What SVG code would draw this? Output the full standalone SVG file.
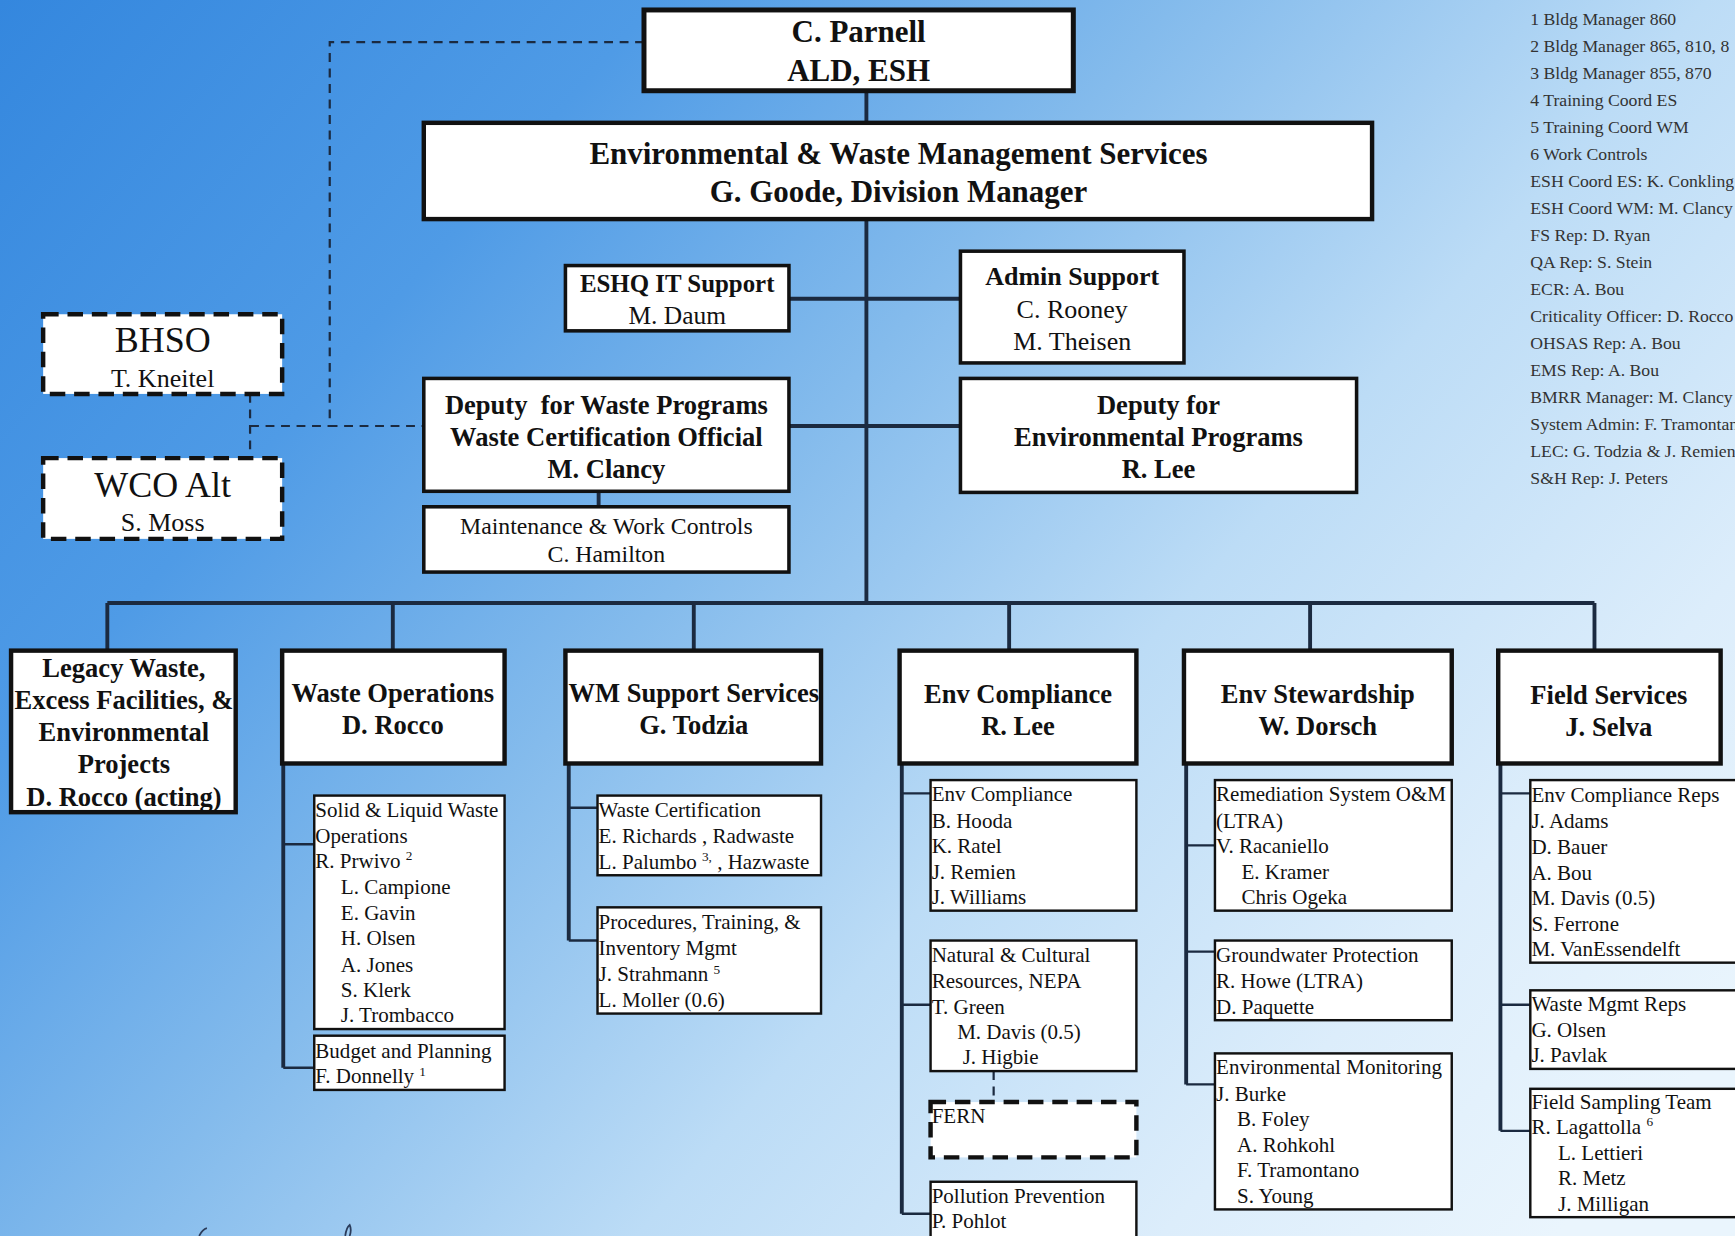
<svg xmlns="http://www.w3.org/2000/svg" width="1735" height="1236" viewBox="0 0 1735 1236">
<defs>
<linearGradient id="bg" gradientUnits="userSpaceOnUse" x1="0" y1="0" x2="1500" y2="1300">
<stop offset="0" stop-color="#3487de"/>
<stop offset="0.25" stop-color="#4f9be6"/>
<stop offset="0.45" stop-color="#84bbec"/>
<stop offset="0.65" stop-color="#bcdcf6"/>
<stop offset="0.85" stop-color="#dcedfb"/>
<stop offset="1" stop-color="#eaf5fd"/>
</linearGradient>
<style>
.bx{fill:#fff;stroke:#111}
.b45{stroke-width:4.5}
.b4{stroke-width:4}
.b3{stroke-width:3.2}
.b2{stroke-width:2.2}
.dsh{fill:#fff;stroke:#111;stroke-width:4;stroke-dasharray:14 8}
.ln{stroke:#1b2a40;stroke-width:3.5;fill:none}
.tk{stroke:#1b2a40;stroke-width:2.2;fill:none}
.dl{stroke:#1b2a40;stroke-width:2;stroke-dasharray:8 6;fill:none}
.hb{font-family:"Liberation Serif",serif;font-weight:bold;fill:#111;text-anchor:middle}
.hr{font-family:"Liberation Serif",serif;fill:#111;text-anchor:middle}
.r{font-family:"Liberation Serif",serif;font-size:19px;fill:#111}
.lg{font-family:"Liberation Serif",serif;font-size:16px;fill:#333}
.sig{stroke:#2a3b5a;stroke-width:1.6;fill:none}
</style>
</defs>
<rect x="0" y="0" width="1735" height="1236" fill="url(#bg)"/>
<g transform="scale(1.10651)">
<g id="connectors">
<path class="ln" d="M783 82V545M713 270H868M713 385H868M97 545H1441M97 545V588M355 545V588M627 545V588M912 545V588M1184 545V588M1441 545V588"/>
<path class="ln" d="M541 433V458"/>
<path class="dl" d="M582 38H298V385H383M226 356V414M226 385H298"/>
<path class="ln" d="M256 690V965M514 690V850M815 690V1097M1072 690V980M1356 690V1022"/>
<path class="tk" d="M256 763H284M256 965H284M514 730H540M514 850H540M815 717H841M815 908H841M815 1097H841M1072 764H1098M1072 860H1098M1072 980H1098M1356 717H1383M1356 908H1383M1356 1022H1383"/>
<path class="dl" d="M898 968V996"/>
</g>

<g id="parnell">
<rect class="bx b45" x="582" y="9" width="388" height="73"/>
<text class="hb" font-size="28" x="776" y="38">C. Parnell</text>
<text class="hb" font-size="28" x="776" y="73">ALD, ESH</text>
</g>
<g id="ewms">
<rect class="bx b4" x="383" y="111" width="857" height="87"/>
<text class="hb" font-size="28" x="812" y="148">Environmental &amp; Waste Management Services</text>
<text class="hb" font-size="28" x="812" y="183">G. Goode, Division Manager</text>
</g>
<g id="eshq">
<rect class="bx b3" x="511" y="240" width="202" height="59"/>
<text class="hb" font-size="22.5" x="612" y="264">ESHQ IT Support</text>
<text class="hr" font-size="23" x="612" y="293">M. Daum</text>
</g>
<g id="admin">
<rect class="bx b3" x="868" y="227" width="202" height="101"/>
<text class="hb" font-size="23.5" x="969" y="258">Admin Support</text>
<text class="hr" font-size="23.5" x="969" y="287">C. Rooney</text>
<text class="hr" font-size="23.5" x="969" y="316">M. Theisen</text>
</g>
<g id="bhso">
<rect class="dsh" x="39" y="284" width="216" height="72"/>
<text class="hr" font-size="32.5" x="147" y="318">BHSO</text>
<text class="hr" font-size="23.5" x="147" y="350">T. Kneitel</text>
</g>
<g id="wco">
<rect class="dsh" x="39" y="414" width="216" height="73"/>
<text class="hr" font-size="32.5" x="147" y="449">WCO Alt</text>
<text class="hr" font-size="23.5" x="147" y="480">S. Moss</text>
</g>
<g id="deputy-waste">
<rect class="bx b3" x="383" y="342" width="330" height="102"/>
<text class="hb" font-size="24" x="548" y="374" xml:space="preserve">Deputy  for Waste Programs</text>
<text class="hb" font-size="24" x="548" y="403">Waste Certification Official</text>
<text class="hb" font-size="24" x="548" y="432">M. Clancy</text>
</g>
<g id="maintenance">
<rect class="bx b3" x="383" y="458" width="330" height="59"/>
<text class="hr" font-size="21.5" x="548" y="483">Maintenance &amp; Work Controls</text>
<text class="hr" font-size="21.5" x="548" y="508">C. Hamilton</text>
</g>
<g id="deputy-env">
<rect class="bx b3" x="868" y="342" width="358" height="103"/>
<text class="hb" font-size="24" x="1047" y="374">Deputy for</text>
<text class="hb" font-size="24" x="1047" y="403">Environmental Programs</text>
<text class="hb" font-size="24" x="1047" y="432">R. Lee</text>
</g>

<g id="legacy">
<rect class="bx b4" x="10" y="588" width="203" height="146"/>
<text class="hb" font-size="24" x="112" y="612">Legacy Waste,</text>
<text class="hb" font-size="24" x="112" y="641">Excess Facilities, &amp;</text>
<text class="hb" font-size="24" x="112" y="670">Environmental</text>
<text class="hb" font-size="24" x="112" y="699">Projects</text>
<text class="hb" font-size="24" x="112" y="728">D. Rocco (acting)</text>
</g>
<g id="waste-ops">
<rect class="bx b4" x="255" y="588" width="201" height="102"/>
<text class="hb" font-size="24" x="355" y="634">Waste Operations</text>
<text class="hb" font-size="24" x="355" y="663">D. Rocco</text>
</g>
<g id="wm-support">
<rect class="bx b4" x="511" y="588" width="231" height="102"/>
<text class="hb" font-size="24" x="627" y="634">WM Support Services</text>
<text class="hb" font-size="24" x="627" y="663">G. Todzia</text>
</g>
<g id="env-compliance">
<rect class="bx b4" x="813" y="588" width="214" height="102"/>
<text class="hb" font-size="24" x="920" y="635">Env Compliance</text>
<text class="hb" font-size="24" x="920" y="664">R. Lee</text>
</g>
<g id="env-stewardship">
<rect class="bx b4" x="1070" y="588" width="242" height="102"/>
<text class="hb" font-size="24" x="1191" y="635">Env Stewardship</text>
<text class="hb" font-size="24" x="1191" y="664">W. Dorsch</text>
</g>
<g id="field-services">
<rect class="bx b4" x="1354" y="588" width="201" height="102"/>
<text class="hb" font-size="24" x="1454" y="636">Field Services</text>
<text class="hb" font-size="24" x="1454" y="665">J. Selva</text>
</g>

<g id="solid-liquid">
<rect class="bx b2" x="284" y="719" width="172" height="211"/>
<text class="r" x="285" y="738">Solid &amp; Liquid Waste</text>
<text class="r" x="285" y="762">Operations</text>
<text class="r" x="285" y="784">R. Prwivo <tspan font-size="12" dy="-7">2</tspan></text>
<text class="r" x="308" y="808">L. Campione</text>
<text class="r" x="308" y="831">E. Gavin</text>
<text class="r" x="308" y="854">H. Olsen</text>
<text class="r" x="308" y="878">A. Jones</text>
<text class="r" x="308" y="901">S. Klerk</text>
<text class="r" x="308" y="924">J. Trombacco</text>
</g>
<g id="budget">
<rect class="bx b2" x="284" y="936" width="172" height="49"/>
<text class="r" x="285" y="956">Budget and Planning</text>
<text class="r" x="285" y="979">F. Donnelly <tspan font-size="12" dy="-7">1</tspan></text>
</g>
<g id="waste-cert">
<rect class="bx b2" x="540" y="719" width="202" height="72"/>
<text class="r" x="541" y="738">Waste Certification</text>
<text class="r" x="541" y="762">E. Richards , Radwaste</text>
<text class="r" x="541" y="785">L. Palumbo <tspan font-size="12" dy="-7">3,</tspan><tspan dy="7"> , Hazwaste</tspan></text>
</g>
<g id="procedures">
<rect class="bx b2" x="540" y="820" width="202" height="96"/>
<text class="r" x="541" y="840">Procedures, Training, &amp;</text>
<text class="r" x="541" y="863">Inventory Mgmt</text>
<text class="r" x="541" y="887">J. Strahmann <tspan font-size="12" dy="-7">5</tspan></text>
<text class="r" x="541" y="910">L. Moller (0.6)</text>
</g>
<g id="env-comp-sub">
<rect class="bx b2" x="841" y="705" width="186" height="118"/>
<text class="r" x="842" y="724">Env Compliance</text>
<text class="r" x="842" y="748">B. Hooda</text>
<text class="r" x="842" y="771">K. Ratel</text>
<text class="r" x="842" y="794">J. Remien</text>
<text class="r" x="842" y="817">J. Williams</text>
</g>
<g id="natural-cultural">
<rect class="bx b2" x="841" y="850" width="186" height="118"/>
<text class="r" x="842" y="869">Natural &amp; Cultural</text>
<text class="r" x="842" y="893">Resources, NEPA</text>
<text class="r" x="842" y="916">T. Green</text>
<text class="r" x="865" y="939">M. Davis (0.5)</text>
<text class="r" x="870" y="962">J. Higbie</text>
</g>
<g id="fern">
<rect class="dsh" x="841" y="996" width="186" height="50"/>
<text class="r" x="842" y="1015">FERN</text>
</g>
<g id="pollution">
<rect class="bx b2" x="841" y="1068" width="186" height="60"/>
<text class="r" x="842" y="1087">Pollution Prevention</text>
<text class="r" x="842" y="1110">P. Pohlot</text>
</g>
<g id="remediation">
<rect class="bx b2" x="1098" y="705" width="214" height="118"/>
<text class="r" x="1099" y="724">Remediation System O&amp;M</text>
<text class="r" x="1099" y="748">(LTRA)</text>
<text class="r" x="1099" y="771">V. Racaniello</text>
<text class="r" x="1122" y="794">E. Kramer</text>
<text class="r" x="1122" y="817">Chris Ogeka</text>
</g>
<g id="groundwater">
<rect class="bx b2" x="1098" y="850" width="214" height="72"/>
<text class="r" x="1099" y="869">Groundwater Protection</text>
<text class="r" x="1099" y="893">R. Howe (LTRA)</text>
<text class="r" x="1099" y="916">D. Paquette</text>
</g>
<g id="env-monitoring">
<rect class="bx b2" x="1098" y="952" width="214" height="141"/>
<text class="r" x="1099" y="971">Environmental Monitoring</text>
<text class="r" x="1099" y="995">J. Burke</text>
<text class="r" x="1118" y="1018">B. Foley</text>
<text class="r" x="1118" y="1041">A. Rohkohl</text>
<text class="r" x="1118" y="1064">F. Tramontano</text>
<text class="r" x="1118" y="1087">S. Young</text>
</g>
<g id="env-comp-reps">
<rect class="bx b2" x="1383" y="705" width="200" height="165"/>
<text class="r" x="1384" y="725">Env Compliance Reps</text>
<text class="r" x="1384" y="748">J. Adams</text>
<text class="r" x="1384" y="772">D. Bauer</text>
<text class="r" x="1384" y="795">A. Bou</text>
<text class="r" x="1384" y="818">M. Davis (0.5)</text>
<text class="r" x="1384" y="841">S. Ferrone</text>
<text class="r" x="1384" y="864">M. VanEssendelft</text>
</g>
<g id="waste-mgmt-reps">
<rect class="bx b2" x="1383" y="895" width="200" height="71"/>
<text class="r" x="1384" y="914">Waste Mgmt Reps</text>
<text class="r" x="1384" y="937">G. Olsen</text>
<text class="r" x="1384" y="960">J. Pavlak</text>
</g>
<g id="field-sampling">
<rect class="bx b2" x="1383" y="984" width="200" height="116"/>
<text class="r" x="1384" y="1002">Field Sampling Team</text>
<text class="r" x="1384" y="1025">R. Lagattolla <tspan font-size="12" dy="-7">6</tspan></text>
<text class="r" x="1408" y="1048">L. Lettieri</text>
<text class="r" x="1408" y="1071">R. Metz</text>
<text class="r" x="1408" y="1094">J. Milligan</text>
</g>

<g id="legend">
<text class="lg" x="1383" y="23">1 Bldg Manager 860</text>
<text class="lg" x="1383" y="47.4">2 Bldg Manager 865, 810, 8</text>
<text class="lg" x="1383" y="71.8">3 Bldg Manager 855, 870</text>
<text class="lg" x="1383" y="96.2">4 Training Coord ES</text>
<text class="lg" x="1383" y="120.6">5 Training Coord WM</text>
<text class="lg" x="1383" y="145">6 Work Controls</text>
<text class="lg" x="1383" y="169.4">ESH Coord ES: K. Conkling</text>
<text class="lg" x="1383" y="193.8">ESH Coord WM: M. Clancy</text>
<text class="lg" x="1383" y="218.2">FS Rep: D. Ryan</text>
<text class="lg" x="1383" y="242.6">QA Rep: S. Stein</text>
<text class="lg" x="1383" y="267">ECR: A. Bou</text>
<text class="lg" x="1383" y="291.4">Criticality Officer: D. Rocco</text>
<text class="lg" x="1383" y="315.8">OHSAS Rep: A. Bou</text>
<text class="lg" x="1383" y="340.2">EMS Rep: A. Bou</text>
<text class="lg" x="1383" y="364.6">BMRR Manager: M. Clancy</text>
<text class="lg" x="1383" y="389">System Admin: F. Tramontano</text>
<text class="lg" x="1383" y="413.4">LEC: G. Todzia &amp; J. Remien</text>
<text class="lg" x="1383" y="437.8">S&amp;H Rep: J. Peters</text>
</g>
<g id="signature-marks">
<path class="sig" d="M180 1117Q183 1111 187 1110"/>
<path class="sig" d="M312 1117Q313 1109 316 1107Q318 1111 316 1117"/>
</g>
</g>
</svg>
